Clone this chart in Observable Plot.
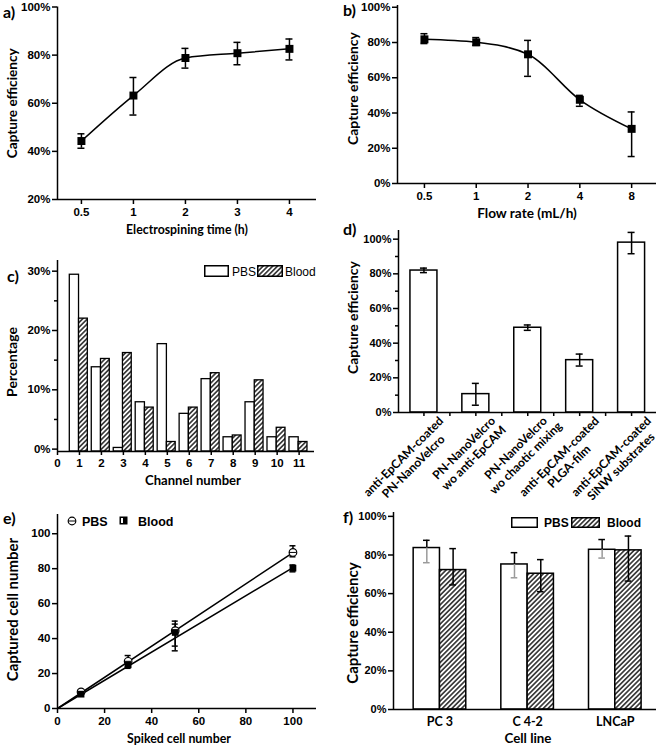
<!DOCTYPE html>
<html>
<head>
<meta charset="utf-8">
<script src="https://cdn.jsdelivr.net/npm/d3@7"></script>
<script src="https://cdn.jsdelivr.net/npm/@observablehq/plot@0.6"></script>
<style>
  body { margin: 0; background: #fff; }
  #fig { position: relative; width: 662px; height: 750px; overflow: hidden; background: #fff; }
  .panel { position: absolute; }
  .abs { position: absolute; line-height: 1; white-space: nowrap; color: #000; }
  .plab { font: 700 16px Lato, sans-serif; }
</style>
</head>
<body>
<svg width="0" height="0" style="position:absolute">
  <defs>
    <pattern id="hatch" patternUnits="userSpaceOnUse" width="3.4" height="3.4" patternTransform="rotate(45)">
      <rect width="3.4" height="3.4" fill="white"/>
      <line x1="1.7" y1="0" x2="1.7" y2="3.4" stroke="black" stroke-width="1.3"/>
    </pattern>
  </defs>
</svg>
<div id="fig"></div>
<script>
// ---------------- DATA ----------------
// a) electrospinning time
const timeLabels = ["0.5", "1", "2", "3", "4"];
const timeEff = [44.3, 63.2, 78.8, 80.8, 82.6];
const timeLo = [41.3, 55.1, 74.6, 76.0, 78.0];
const timeHi = [47.3, 70.7, 82.8, 85.3, 86.7];

// b) flow rate
const flowLabels = ["0.5", "1", "2", "4", "8"];
const flowEff = [81.8, 80.1, 73.3, 47.5, 31.0];
const flowLo = [79.4, 78.4, 60.8, 43.8, 15.3];
const flowHi = [85.0, 82.8, 81.2, 50.0, 40.6];

// c) channel distribution
const channels = [1, 2, 3, 4, 5, 6, 7, 8, 9, 10, 11];
const chanPBS = [29.4, 13.8, 0.2, 7.9, 17.7, 5.95, 11.8, 2.0, 7.9, 2.0, 2.0];
const chanBlood = [22.0, 15.2, 16.2, 7.0, 1.2, 7.0, 12.8, 2.3, 11.6, 3.6, 1.2];

// d) comparison of substrates
const subLabels = [
  "anti-EpCAM-coated\nPN-NanoVelcro",
  "PN-NanoVelcro\nwo anti-EpCAM",
  "PN-NanoVelcro\nwo chaotic mixing",
  "anti-EpCAM-coated\nPLGA-film",
  "anti-EpCAM-coated\nSiNW substrates"
];
const subEff = [81.9, 10.6, 48.9, 30.2, 98.0];
const subLo = [80.7, 4.2, 47.4, 26.8, 91.6];
const subHi = [83.3, 16.8, 50.5, 33.7, 103.9];

// e) spiked vs captured
const spiked = [10, 30, 50, 100];
const capPBS = [9.5, 27.0, 44.5, 89.3];
const capPBSLo = [8.5, 24.2, 35.7, 86.8];
const capPBSHi = [10.5, 30.3, 50.0, 93.1];
const capBlood = [8.2, 25.0, 43.5, 80.3];
const capBloodLo = [7.0, 23.0, 33.0, 78.2];
const capBloodHi = [9.5, 27.5, 48.3, 82.1];
const fitX = [0, 100];
const fitPBS = [0, 89.2];
const fitBlood = [0, 80.6];

// f) cell lines
const cellLines = ["PC 3", "C 4-2", "LNCaP"];
const cellPBS = [83.6, 75.1, 82.7];
const cellPBSLo = [76.0, 68.2, 78.4];
const cellPBSHi = [87.6, 81.2, 88.0];
const cellBlood = [72.2, 70.3, 82.4];
const cellBloodLo = [64.5, 61.0, 66.5];
const cellBloodHi = [83.3, 77.6, 89.8];

// ---------------- HELPERS ----------------
const fig = document.getElementById("fig");
const TF = "'Liberation Sans', Arial, sans-serif";
const LF = "Lato, 'Open Sans', sans-serif";
const SW = 1.5;
const baseStyle = {fontFamily: TF, fontSize: "11.5px", fontWeight: "bold", color: "black", background: "transparent", overflow: "visible"};
const mctx = document.createElement("canvas").getContext("2d");
// font size that gives a label the printed length seen in the figure
function fitSize(text, target) {
  mctx.font = "bold 20px Lato";
  return Math.min(15, 20 * target / mctx.measureText(text).width);
}

function mount(plot, left, top, w) {
  const d = document.createElement("div");
  d.className = "panel";
  d.style.left = left + "px"; d.style.top = top + "px"; d.style.width = w + "px";
  d.appendChild(plot); fig.appendChild(d);
}
function yLabel(t, dx, dy, target) {
  return Plot.text([t], {frameAnchor: "left", rotate: -90, textAnchor: "middle", lineAnchor: "middle", dx, dy, fontFamily: LF, fontSize: fitSize(t, target), fontWeight: "bold"});
}
function xLabel(t, dy, dx, target) {
  return Plot.text([t], {frameAnchor: "bottom", textAnchor: "middle", lineAnchor: "middle", dx, dy, fontFamily: LF, fontSize: fitSize(t, target), fontWeight: "bold"});
}
function errBars(xs, lo, hi, cap, opts = {}) {
  return [
    Plot.ruleX(xs, {x: d => d, y1: (d, i) => lo[i], y2: (d, i) => hi[i], strokeWidth: SW, ...opts}),
    Plot.ruleY(xs, {x1: d => d, x2: d => d, y: (d, i) => hi[i], insetLeft: -cap, insetRight: -cap, strokeWidth: SW, ...opts}),
    Plot.ruleY(xs, {x1: d => d, x2: d => d, y: (d, i) => lo[i], insetLeft: -cap, insetRight: -cap, strokeWidth: SW, ...opts})
  ];
}
function minorY(vals, x0, len = 3) {
  return Plot.ruleY(vals, {y: d => d, x1: x0, x2: x0, insetLeft: -len, insetRight: 0, strokeWidth: SW});
}
function minorX(vals, y0, len = 4) {
  return Plot.ruleX(vals, {x: d => d, y1: y0, y2: y0, insetTop: 0, insetBottom: -len, strokeWidth: SW});
}
function addEl(html, left, top, cls = "abs", style = "") {
  const e = document.createElement("div");
  e.className = cls; e.style.left = left + "px"; e.style.top = top + "px";
  if (style) e.style.cssText += style;
  e.innerHTML = html; fig.appendChild(e);
}
function swatch(w, h, fill) {
  return `<svg width="${w}" height="${h}" style="display:block"><rect x="0.75" y="0.75" width="${w - 1.5}" height="${h - 1.5}" fill="${fill}" stroke="black" stroke-width="1.5"/></svg>`;
}
const pct = d => d + "%";

// ---------------- PANEL a ----------------
const aIdx = timeLabels.map((d, i) => i);
const aX = [-0.46, 4.52];
mount(Plot.plot({
  width: 331, height: 250, marginLeft: 57, marginRight: 15, marginTop: 6.5, marginBottom: 51,
  style: baseStyle,
  x: {domain: aX}, y: {domain: [20, 100]},
  marks: [
    Plot.axisY({ticks: [20, 40, 60, 80, 100], tickFormat: pct, tickSize: 5, tickPadding: 2, strokeWidth: SW, label: null}),
    Plot.axisX({ticks: aIdx, tickFormat: i => timeLabels[i], tickSize: 5, tickPadding: 3, strokeWidth: SW, label: null}),
    Plot.ruleX([aX[0]], {strokeWidth: SW}),
    Plot.ruleY([20], {strokeWidth: SW}),
    Plot.line(timeEff, {x: (d, i) => i, y: d => d, curve: "monotone-x", strokeWidth: SW}),
    ...errBars(aIdx, timeLo, timeHi, 3.5),
    Plot.dot(timeEff, {x: (d, i) => i, y: d => d, symbol: "square", r: 4.5, fill: "black"}),
    yLabel("Capture efficiency", -45, 0, 110),
    xLabel("Electrospining time (h)", 31, 0, 122)
  ]
}), 0, 0, 331);

// ---------------- PANEL b ----------------
const bIdx = flowLabels.map((d, i) => i);
const bX = [-0.52, 4.48];
mount(Plot.plot({
  width: 331, height: 250, marginLeft: 66, marginRight: 6, marginTop: 5, marginBottom: 67,
  style: baseStyle,
  x: {domain: bX}, y: {domain: [0, 101]},
  marks: [
    Plot.axisY({ticks: [0, 20, 40, 60, 80, 100], tickFormat: pct, tickSize: 5, tickPadding: 2, strokeWidth: SW, label: null}),
    Plot.axisX({ticks: bIdx, tickFormat: i => flowLabels[i], tickSize: 5, tickPadding: 3, strokeWidth: SW, label: null}),
    Plot.ruleX([bX[0]], {strokeWidth: SW}),
    Plot.ruleY([0], {strokeWidth: SW}),
    Plot.line(flowEff, {x: (d, i) => i, y: d => d, curve: "monotone-x", strokeWidth: SW}),
    ...errBars(bIdx, flowLo, flowHi, 3.5),
    Plot.dot(flowEff, {x: (d, i) => i, y: d => d, symbol: "square", r: 4.5, fill: "black"}),
    yLabel("Capture efficiency", -44, -6, 113),
    xLabel("Flow rate (mL/h)", 30, 0, 100)
  ]
}), 331, 0, 331);

// ---------------- PANEL c ----------------
const cX = [0, 11.7];
const cY = [-0.4, 31.8];
mount(Plot.plot({
  width: 331, height: 250, marginLeft: 57, marginRight: 17, marginTop: 10, marginBottom: 49,
  style: baseStyle,
  x: {domain: cX}, y: {domain: cY},
  marks: [
    Plot.axisY({ticks: [0, 10, 20, 30], tickFormat: pct, tickSize: 5, tickPadding: 2, strokeWidth: SW, label: null}),
    minorY([5, 15, 25], cX[0], 3),
    Plot.axisX({ticks: [0, 1, 2, 3, 4, 5, 6, 7, 8, 9, 10, 11], tickSize: 4, tickPadding: 3, strokeWidth: SW, label: null}),
    Plot.rect(channels, {x1: d => d - 0.44, x2: d => d - 0.02, y1: cY[0], y2: (d, i) => chanPBS[i], fill: "white", stroke: "black", strokeWidth: 1.3}),
    Plot.rect(channels, {x1: d => d - 0.02, x2: d => d + 0.38, y1: cY[0], y2: (d, i) => chanBlood[i], fill: "url(#hatch)", stroke: "black", strokeWidth: 1.3}),
    Plot.ruleX([cX[0]], {strokeWidth: SW}),
    Plot.ruleY([cY[0]], {strokeWidth: SW}),
    yLabel("Percentage", -45, 6, 70),
    xLabel("Channel number", 29, 7, 96)
  ]
}), 0, 250, 331);

// ---------------- PANEL d ----------------
const dX = [-0.49, 4.48];
const dIdx = subLabels.map((d, i) => i);
const dFS = 12;
const dLabelMarks = subLabels.map((t, i) => {
  mctx.font = `bold ${dFS}px Lato`;
  const w = mctx.measureText(t.split("\n")[0]).width;
  const h = Math.SQRT1_2;
  return Plot.text([t], {
    x: i, y: 0, rotate: -45, textAnchor: "middle", lineAnchor: "middle", lineHeight: 1.17,
    dx: 17 - h * w / 2 + h * 7, dy: 6 + h * w / 2 + h * 7,
    fontFamily: LF, fontSize: dFS, fontWeight: "bold"
  });
});
mount(Plot.plot({
  width: 331, height: 280, marginLeft: 67, marginRight: 6, marginTop: 10, marginBottom: 88,
  style: {...baseStyle, fontSize: "11px"},
  x: {domain: dX, axis: null}, y: {domain: [0, 105]},
  marks: [
    Plot.axisY({ticks: [0, 20, 40, 60, 80, 100], tickFormat: pct, tickSize: 5, tickPadding: 2, strokeWidth: SW, label: null}),
    minorY([10, 30, 50, 70, 90], dX[0], 3),
    minorX([0, 0.5, 1, 1.5, 2, 2.5, 3, 3.5, 4], 0, 4),
    Plot.rect(subEff, {x1: (d, i) => i - 0.26, x2: (d, i) => i + 0.26, y1: 0, y2: d => d, fill: "white", stroke: "black", strokeWidth: SW}),
    ...errBars(dIdx, subLo, subHi, 3.5),
    Plot.ruleX([dX[0]], {strokeWidth: SW}),
    Plot.ruleY([0], {strokeWidth: SW}),
    ...dLabelMarks,
    yLabel("Capture efficiency", -45, -4, 113)
  ]
}), 331, 220, 331);

// ---------------- PANEL e ----------------
const eX = [0, 110];
const eY = [0, 111];
mount(Plot.plot({
  width: 331, height: 250, marginLeft: 57, marginRight: 15, marginTop: 14, marginBottom: 42,
  style: baseStyle,
  x: {domain: eX}, y: {domain: eY},
  marks: [
    Plot.axisY({ticks: [0, 20, 40, 60, 80, 100], tickSize: 5, tickPadding: 2, strokeWidth: SW, label: null}),
    Plot.axisX({ticks: [0, 20, 40, 60, 80, 100], tickSize: 5, tickPadding: 3, strokeWidth: SW, label: null}),
    Plot.ruleX([eX[0]], {strokeWidth: SW}),
    Plot.ruleY([eY[0]], {strokeWidth: SW}),
    Plot.line(fitX, {x: d => d, y: (d, i) => fitPBS[i], strokeWidth: SW}),
    Plot.line(fitX, {x: d => d, y: (d, i) => fitBlood[i], strokeWidth: SW}),
    ...errBars(spiked, capPBSLo, capPBSHi, 3),
    ...errBars(spiked, capBloodLo, capBloodHi, 3),
    Plot.dot(spiked, {x: d => d, y: (d, i) => capPBS[i], r: 3.8, fill: "white", stroke: "black", strokeWidth: 1.2}),
    Plot.ruleY(spiked, {x1: d => d, x2: d => d, y: (d, i) => capPBS[i], insetLeft: -3.5, insetRight: -3.5, strokeWidth: 1}),
    Plot.dot(spiked, {x: d => d, y: (d, i) => capBlood[i], symbol: "square", r: 3.8, fill: "black"}),
    yLabel("Captured cell number", -44, -2, 157),
    xLabel("Spiked cell number", 31, -8, 104)
  ]
}), 0, 500, 331);

// ---------------- PANEL f ----------------
const fX = [-0.53, 2.47];
const fIdx = cellLines.map((d, i) => i);
const fPbsX = fIdx.map(i => i - 0.15);
const fBloodX = fIdx.map(i => i + 0.15);
mount(Plot.plot({
  width: 331, height: 250, marginLeft: 62, marginRight: 6, marginTop: 12, marginBottom: 41,
  style: {...baseStyle, fontSize: "11px"},
  x: {domain: fX}, y: {domain: [0, 102]},
  marks: [
    Plot.axisY({ticks: [0, 20, 40, 60, 80, 100], tickFormat: pct, tickSize: 5, tickPadding: 2, strokeWidth: SW, label: null}),
    Plot.axisX({ticks: fIdx, tickFormat: i => cellLines[i], tickSize: 0, tickPadding: 8, label: null, fontFamily: LF, fontSize: 12.5}),
    Plot.rect(cellPBS, {x1: (d, i) => i - 0.3, x2: (d, i) => i, y1: 0, y2: d => d, fill: "white", stroke: "black", strokeWidth: SW}),
    Plot.rect(cellBlood, {x1: (d, i) => i, x2: (d, i) => i + 0.3, y1: 0, y2: d => d, fill: "url(#hatch)", stroke: "black", strokeWidth: SW}),
    // PBS error bars: above the bar in black, inside the bar in grey
    Plot.ruleX(fPbsX, {x: d => d, y1: (d, i) => cellPBS[i], y2: (d, i) => cellPBSHi[i], strokeWidth: SW}),
    Plot.ruleY(fPbsX, {x1: d => d, x2: d => d, y: (d, i) => cellPBSHi[i], insetLeft: -3.3, insetRight: -3.3, strokeWidth: SW}),
    Plot.ruleX(fPbsX, {x: d => d, y1: (d, i) => cellPBSLo[i], y2: (d, i) => cellPBS[i], strokeWidth: SW, stroke: "#9a9a9a"}),
    Plot.ruleY(fPbsX, {x1: d => d, x2: d => d, y: (d, i) => cellPBSLo[i], insetLeft: -3.3, insetRight: -3.3, strokeWidth: SW, stroke: "#9a9a9a"}),
    ...errBars(fBloodX, cellBloodLo, cellBloodHi, 3.3),
    Plot.ruleX([fX[0]], {strokeWidth: SW}),
    Plot.ruleY([0], {strokeWidth: SW}),
    yLabel("Capture efficiency", -40, 12, 133),
    xLabel("Cell line", 29, 3, 47)
  ]
}), 331, 500, 331);

// ---------------- PANEL LABELS ----------------
addEl("a)", 3, 2, "abs plab");
addEl("b)", 343, 0, "abs plab");
addEl("c)", 7, 266, "abs plab");
addEl("d)", 343, 219, "abs plab");
addEl("e)", 3, 508, "abs plab");
addEl("f)", 343, 507, "abs plab");

// ---------------- LEGENDS ----------------
// c)
addEl(swatch(25, 12, "white"), 204, 265);
addEl("PBS", 232, 265, "abs", `font:400 12px ${TF};`);
addEl(swatch(26, 12, "url(#hatch)"), 257, 265);
addEl("Blood", 285, 265, "abs", `font:400 12px ${TF};`);
// e)
addEl(`<svg width="12" height="12" style="display:block"><circle cx="6" cy="6" r="3.8" fill="white" stroke="black" stroke-width="1.2"/><line x1="2.5" x2="9.5" y1="6" y2="6" stroke="black" stroke-width="1"/></svg>`, 66, 515);
addEl("PBS", 82, 515, "abs", `font:700 12.5px ${TF};`);
addEl(`<svg width="9" height="9" style="display:block"><rect x="0.5" y="0.5" width="8" height="8" fill="black"/><rect x="2" y="2" width="2" height="5" fill="white"/></svg>`, 119, 516);
addEl("Blood", 138, 515, "abs", `font:700 12.5px ${TF};`);
// f)
addEl(swatch(27, 11, "white"), 511, 517);
addEl("PBS", 544, 516, "abs", `font:700 12px ${TF};`);
addEl(swatch(29, 11, "url(#hatch)"), 571, 517);
addEl("Blood", 607, 516, "abs", `font:700 12px ${TF};`);
</script>
</body>
</html>
